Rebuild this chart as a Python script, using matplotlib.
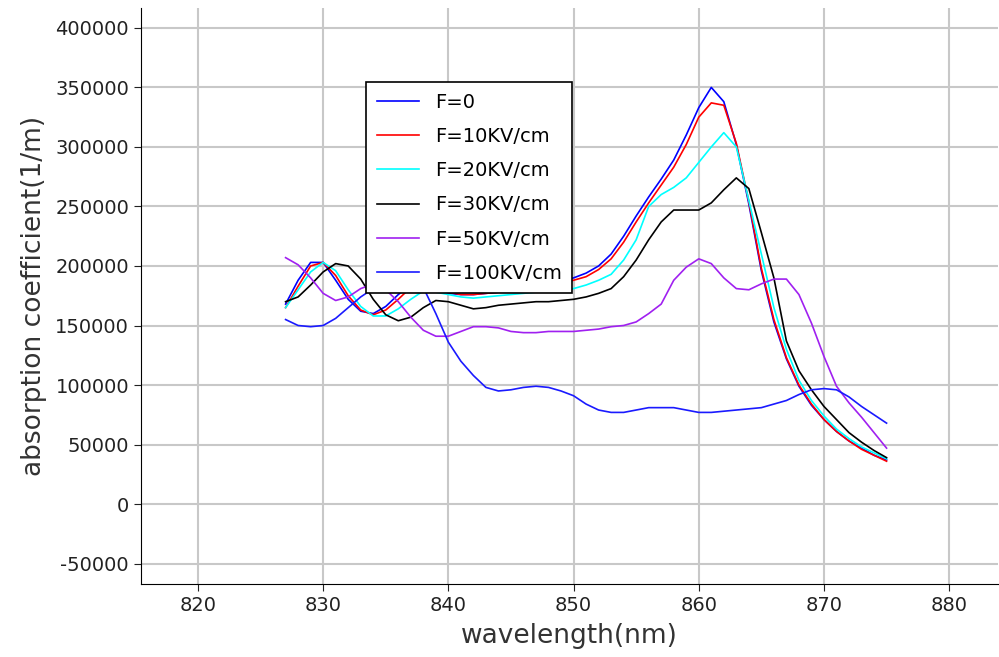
import numpy as np
import matplotlib.pyplot as plt

plt.rcParams['axes.unicode_minus'] = False

wl = np.arange(827, 876)

f0 = [168, 188, 203, 203, 188, 172, 162, 160, 166, 176,
      184, 186, 182, 177, 176, 176, 177, 178, 180, 181,
      183, 185, 187, 190, 194, 200, 210, 225, 242, 258,
      273, 289, 310, 333, 350, 338, 302, 252, 196, 153,
      122, 99, 83, 71, 61, 53, 47, 41, 37]
f10 = [165, 183, 200, 203, 192, 175, 163, 159, 163, 172,
       182, 186, 183, 178, 176, 176, 177, 178, 179, 180,
       182, 184, 186, 188, 191, 197, 206, 220, 237, 253,
       268, 283, 302, 325, 337, 335, 303, 254, 198, 155,
       123, 100, 84, 71, 61, 53, 46, 41, 36]
f20 = [165, 180, 195, 203, 196, 180, 166, 158, 158, 164,
       172, 179, 178, 176, 174, 173, 174, 175, 176, 177,
       178, 179, 180, 181, 184, 188, 193, 205, 222, 250,
       260, 266, 274, 287, 300, 312, 300, 255, 210, 165,
       130, 104, 87, 74, 63, 55, 48, 43, 38]
f30 = [170, 174, 184, 195, 202, 200, 189, 172, 159, 154,
       157, 165, 171, 170, 167, 164, 165, 167, 168, 169,
       170, 170, 171, 172, 174, 177, 181, 191, 205, 222,
       237, 247, 247, 247, 253, 264, 274, 265, 228, 190,
       137, 112, 96, 82, 71, 60, 52, 45, 39]
f50 = [207, 201, 190, 177, 171, 174, 181, 185, 180, 170,
       157, 146, 141, 141, 145, 149, 149, 148, 145, 144,
       144, 145, 145, 145, 146, 147, 149, 150, 153, 160,
       168, 188, 199, 206, 202, 190, 181, 180, 185, 189,
       189, 176, 152, 124, 99, 85, 73, 60, 47]
f100 = [155, 150, 149, 150, 156, 165, 174, 181, 185, 187,
        187, 182, 160, 136, 120, 108, 98, 95, 96, 98,
        99, 98, 95, 91, 84, 79, 77, 77, 79, 81,
        81, 81, 79, 77, 77, 78, 79, 80, 81, 84,
        87, 92, 96, 97, 96, 90, 82, 75, 68]

series = [f0, f10, f20, f30, f50, f100]
labels = ['F=0', 'F=10KV/cm', 'F=20KV/cm', 'F=30KV/cm', 'F=50KV/cm', 'F=100KV/cm']
colors = ['#0000ff', '#ff0000', '#00ffff', '#000000', '#a020f0', '#1a1aff']

fig = plt.figure(figsize=(9.99, 6.57), dpi=100)
ax = fig.add_axes([0.141, 0.111, 0.858, 0.877])

for y, lab, c in zip(series, labels, colors):
    ax.plot(wl, np.array(y) * 1000, color=c, lw=1.2, label=lab)

ax.set_xlim(815.44, 883.9)
ax.set_ylim(-67200, 416800)
ax.set_xticks(np.arange(820, 881, 10))
ax.set_yticks(np.arange(-50000, 400001, 50000))
ax.grid(True, color='#c8c8c8', lw=1.5)
ax.set_axisbelow(True)
for s in ['top', 'right']:
    ax.spines[s].set_visible(False)
ax.tick_params(labelsize=14, length=5, colors='#222222')
ax.set_xlabel('wavelength(nm)', fontsize=19, color='#333333', labelpad=6)
ax.set_ylabel('absorption coefficient(1/m)', fontsize=19, color='#333333', labelpad=6)

leg = ax.legend(loc='upper left', bbox_to_anchor=(0.2625, 0.871), fontsize=14,
                frameon=True, fancybox=False, edgecolor='black', framealpha=1,
                handlelength=2.2, labelspacing=0.78, borderpad=0.55,
                borderaxespad=0)
leg.get_frame().set_linewidth(1.2)

fig.savefig('out.png', dpi=100)
